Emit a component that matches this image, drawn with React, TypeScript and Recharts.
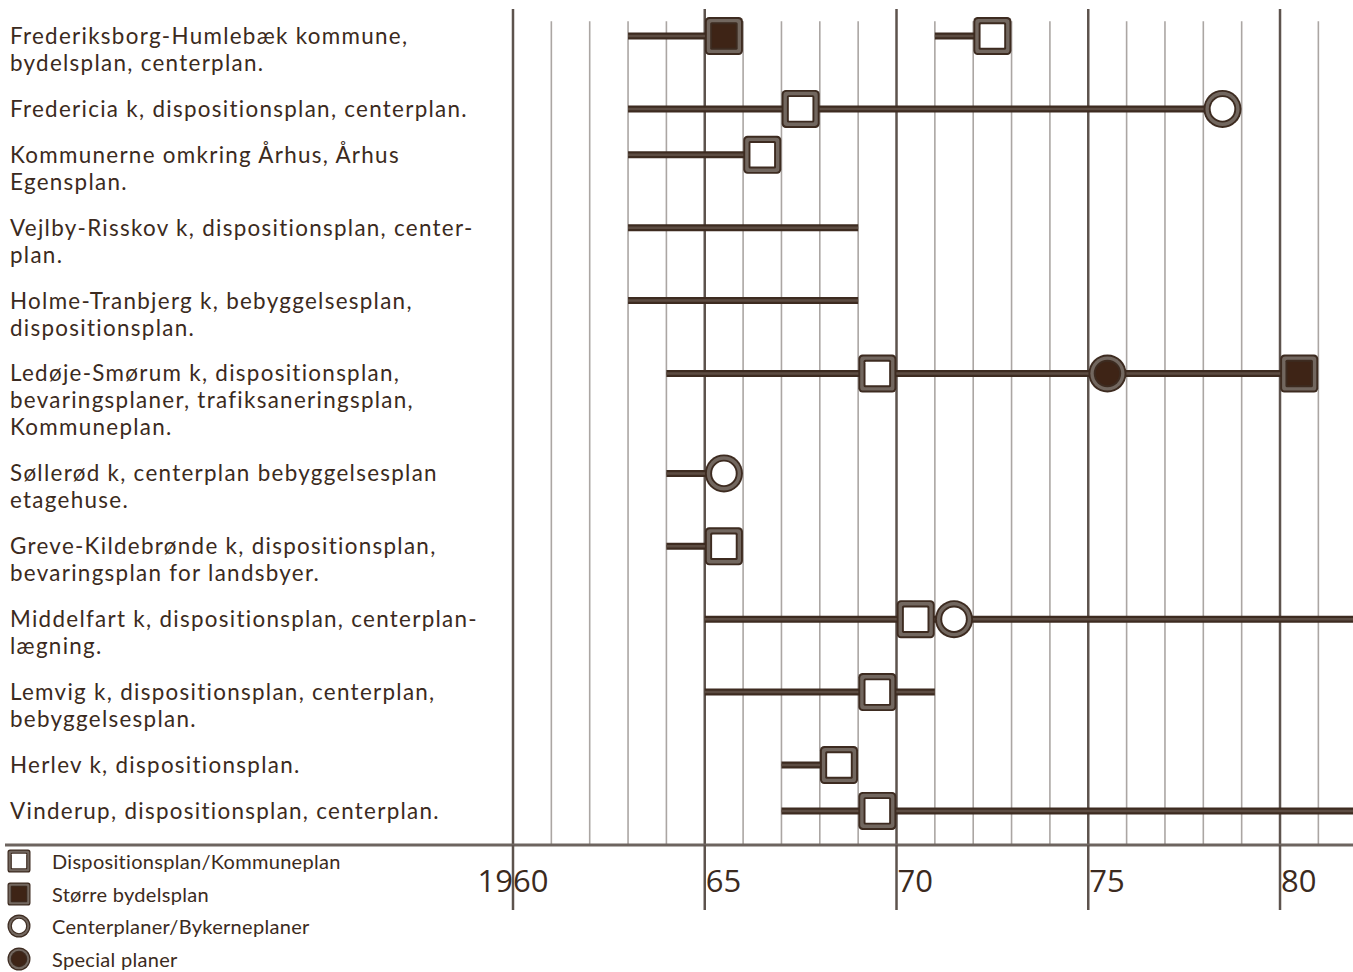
import React from 'react';
import { ComposedChart, Scatter, XAxis, YAxis, ReferenceLine, Legend } from 'recharts';

// Municipal plans on a 1960–1982 timeline
const rowLabels: string[][] = [
  ['Frederiksborg-Humlebæk kommune,', 'bydelsplan, centerplan.'],
  ['Fredericia k, dispositionsplan, centerplan.'],
  ['Kommunerne omkring Århus, Århus', 'Egensplan.'],
  ['Vejlby-Risskov k, dispositionsplan, center-', 'plan.'],
  ['Holme-Tranbjerg k, bebyggelsesplan,', 'dispositionsplan.'],
  ['Ledøje-Smørum k, dispositionsplan,', 'bevaringsplaner, trafiksaneringsplan,', 'Kommuneplan.'],
  ['Søllerød k, centerplan bebyggelsesplan', 'etagehuse.'],
  ['Greve-Kildebrønde k, dispositionsplan,', 'bevaringsplan for landsbyer.'],
  ['Middelfart k, dispositionsplan, centerplan-', 'lægning.'],
  ['Lemvig k, dispositionsplan, centerplan,', 'bebyggelsesplan.'],
  ['Herlev k, dispositionsplan.'],
  ['Vinderup, dispositionsplan, centerplan.'],
];

// Planning periods (row index, first year, last year)
const segmentRow = [0, 0, 1, 2, 3, 4, 5, 6, 7, 8, 9, 10, 11];
const segmentFrom = [1963, 1971, 1963, 1963, 1963, 1963, 1964, 1964, 1964, 1965, 1965, 1967, 1967];
const segmentTo = [1965.5, 1972.5, 1978.5, 1966.5, 1969, 1969, 1980.5, 1965.5, 1965.5, 1983, 1971, 1968.5, 1983];

// Plans adopted, by type
const dispositionsplanRows = [0, 1, 2, 5, 7, 8, 9, 10, 11];
const dispositionsplanYears = [1972.5, 1967.5, 1966.5, 1969.5, 1965.5, 1970.5, 1969.5, 1968.5, 1969.5];
const bydelsplanRows = [0, 5];
const bydelsplanYears = [1965.5, 1980.5];
const centerplanRows = [1, 6, 8];
const centerplanYears = [1978.5, 1965.5, 1971.5];
const specialplanRows = [5];
const specialplanYears = [1975.5];

const gridYears = [1960, 1961, 1962, 1963, 1964, 1965, 1966, 1967, 1968, 1969, 1970,
  1971, 1972, 1973, 1974, 1975, 1976, 1977, 1978, 1979, 1980, 1981];
const majorYears = [1960, 1965, 1970, 1975, 1980];

const legendItems = [
  { name: 'Dispositionsplan/Kommuneplan', kind: 'square', filled: false },
  { name: 'Større bydelsplan', kind: 'square', filled: true },
  { name: 'Centerplaner/Bykerneplaner', kind: 'circle', filled: false },
  { name: 'Special planer', kind: 'circle', filled: true },
];

const DARK = '#3d2b20';
const RING = '#72675f';
const FILL = '#3e2416';
const TEXT = '#3b2a20';
const MAJOR = '#5d534d';
const MINOR = '#aba6a3';
const AXIS = '#6d645f';
const FONT = 'Lato, sans-serif';
const TICK_FONT = '"Open Sans", sans-serif';
const MARK = 38;
const LINE_PX = 27;

// Each row takes its label's line count plus a gap, in line units
const ROW_GAP = 0.7;
const rowPos: number[] = [];
{
  let acc = 0;
  rowLabels.forEach((lines) => {
    rowPos.push(acc);
    acc += lines.length + ROW_GAP;
  });
}

const Y_DOMAIN: [number, number] = [-1, 29.963];
const X_DOMAIN: [number, number] = [1946.754, 1981.903];

const toPoints = (rows: number[], years: number[]) =>
  rows.map((r, i) => ({ x: years[i], y: rowPos[r] }));

const segments = segmentRow.map((r, i) => [
  { x: segmentFrom[i], y: rowPos[r] },
  { x: segmentTo[i], y: rowPos[r] },
]);

function drawMarker(kind: string, filled: boolean, cx: number, cy: number, size: number) {
  const k = size / 36;
  const inner = filled ? FILL : '#ffffff';
  if (kind === 'square') {
    const s = size;
    const r = (inset: number, fill: string, rx: number) => (
      <rect
        x={cx - s / 2 + inset * k}
        y={cy - s / 2 + inset * k}
        width={s - 2 * inset * k}
        height={s - 2 * inset * k}
        rx={rx * k}
        fill={fill}
      />
    );
    return (
      <g>
        {r(0, DARK, 4)}
        {r(1.8, RING, 3)}
        {r(5, DARK, 1.5)}
        {r(6.8, inner, 0.5)}
      </g>
    );
  }
  const R = size / 2;
  return (
    <g>
      <circle cx={cx} cy={cy} r={R} fill={DARK} />
      <circle cx={cx} cy={cy} r={R - 1.8 * k} fill={RING} />
      <circle cx={cx} cy={cy} r={R - 5 * k} fill={DARK} />
      <circle cx={cx} cy={cy} r={R - 6.8 * k} fill={inner} />
    </g>
  );
}

const markerShape = (kind: string, filled: boolean) => (props: any) =>
  drawMarker(kind, filled, props.cx, props.cy, MARK);

const NoShape = () => <g />;

const RowLabelTick = (props: any) => {
  const { y, payload } = props;
  const idx = rowPos.findIndex((p) => Math.abs(p - payload.value) < 1e-6);
  if (idx < 0) return <g />;
  return (
    <g>
      {rowLabels[idx].map((line, i) => (
        <text
          key={i}
          x={10}
          y={y + 8 + i * LINE_PX}
          fill={TEXT}
          fontSize={22.4}
          letterSpacing={1.3}
          fontFamily={FONT}
          textAnchor="start"
        >
          {line}
        </text>
      ))}
    </g>
  );
};

const YearTick = (props: any) => {
  const { x, y, payload } = props;
  const v = payload.value as number;
  const first = v === majorYears[0];
  return (
    <text
      x={first ? x : x + 1}
      y={y}
      dy={-20}
      fill={TEXT}
      fontSize={31}
      fontFamily={TICK_FONT}
      textAnchor={first ? 'middle' : 'start'}
    >
      {first ? String(v) : String(v).slice(2)}
    </text>
  );
};

const LegendBlock = () => (
  <div style={{ fontFamily: FONT, color: TEXT, fontSize: 20, letterSpacing: 0.3 }}>
    {legendItems.map((it) => (
      <div key={it.name} style={{ display: 'flex', alignItems: 'center', height: 32.5 }}>
        <svg width={26} height={26} style={{ marginLeft: 6, marginRight: 20 }}>
          {drawMarker(it.kind, it.filled, 13, 13, 23)}
        </svg>
        <span>{it.name}</span>
      </div>
    ))}
  </div>
);

export default function App() {
  return (
    <div style={{ position: 'absolute', left: 0, top: 0, background: '#fff' }}>
      <ComposedChart
        width={1353}
        height={972}
        margin={{ top: 9, right: 0, bottom: 0, left: 0 }}
      >
        <XAxis
          type="number"
          dataKey="x"
          domain={X_DOMAIN}
          allowDataOverflow
          ticks={majorYears}
          interval={0}
          height={127}
          tickSize={65}
          tickMargin={2}
          axisLine={{ stroke: AXIS, strokeWidth: 3 }}
          tickLine={{ stroke: MAJOR, strokeWidth: 2.5 }}
          tick={<YearTick />}
        />
        <YAxis
          type="number"
          dataKey="y"
          domain={Y_DOMAIN}
          allowDataOverflow
          reversed
          ticks={rowPos}
          interval={0}
          width={5}
          axisLine={false}
          tickLine={false}
          tick={<RowLabelTick />}
        />
        {gridYears
          .filter((yr) => !majorYears.includes(yr))
          .map((yr) => (
            <ReferenceLine
              key={'m' + yr}
              segment={[{ x: yr, y: -0.55 }, { x: yr, y: Y_DOMAIN[1] }]}
              stroke={MINOR}
              strokeWidth={1.6}
            />
          ))}
        {majorYears.map((yr) => (
          <ReferenceLine key={'M' + yr} x={yr} stroke={MAJOR} strokeWidth={2.5} />
        ))}
        {segments.map((pts, i) => (
          <Scatter
            key={'sd' + i}
            data={pts}
            line={{ stroke: DARK, strokeWidth: 7 }}
            shape={NoShape}
            isAnimationActive={false}
          />
        ))}
        {segments.map((pts, i) => (
          <Scatter
            key={'sl' + i}
            data={pts}
            line={{ stroke: '#5c4c42', strokeWidth: 2.5 }}
            shape={NoShape}
            isAnimationActive={false}
          />
        ))}
        <Scatter
          name="Dispositionsplan/Kommuneplan"
          data={toPoints(dispositionsplanRows, dispositionsplanYears)}
          shape={markerShape('square', false)}
          isAnimationActive={false}
        />
        <Scatter
          name="Større bydelsplan"
          data={toPoints(bydelsplanRows, bydelsplanYears)}
          shape={markerShape('square', true)}
          isAnimationActive={false}
        />
        <Scatter
          name="Centerplaner/Bykerneplaner"
          data={toPoints(centerplanRows, centerplanYears)}
          shape={markerShape('circle', false)}
          isAnimationActive={false}
        />
        <Scatter
          name="Special planer"
          data={toPoints(specialplanRows, specialplanYears)}
          shape={markerShape('circle', true)}
          isAnimationActive={false}
        />
        <Legend
          layout="vertical"
          align="center"
          verticalAlign="middle"
          wrapperStyle={{ left: 0, top: 845, width: 420, height: 128 }}
          content={() => <LegendBlock />}
        />
      </ComposedChart>
    </div>
  );
}
